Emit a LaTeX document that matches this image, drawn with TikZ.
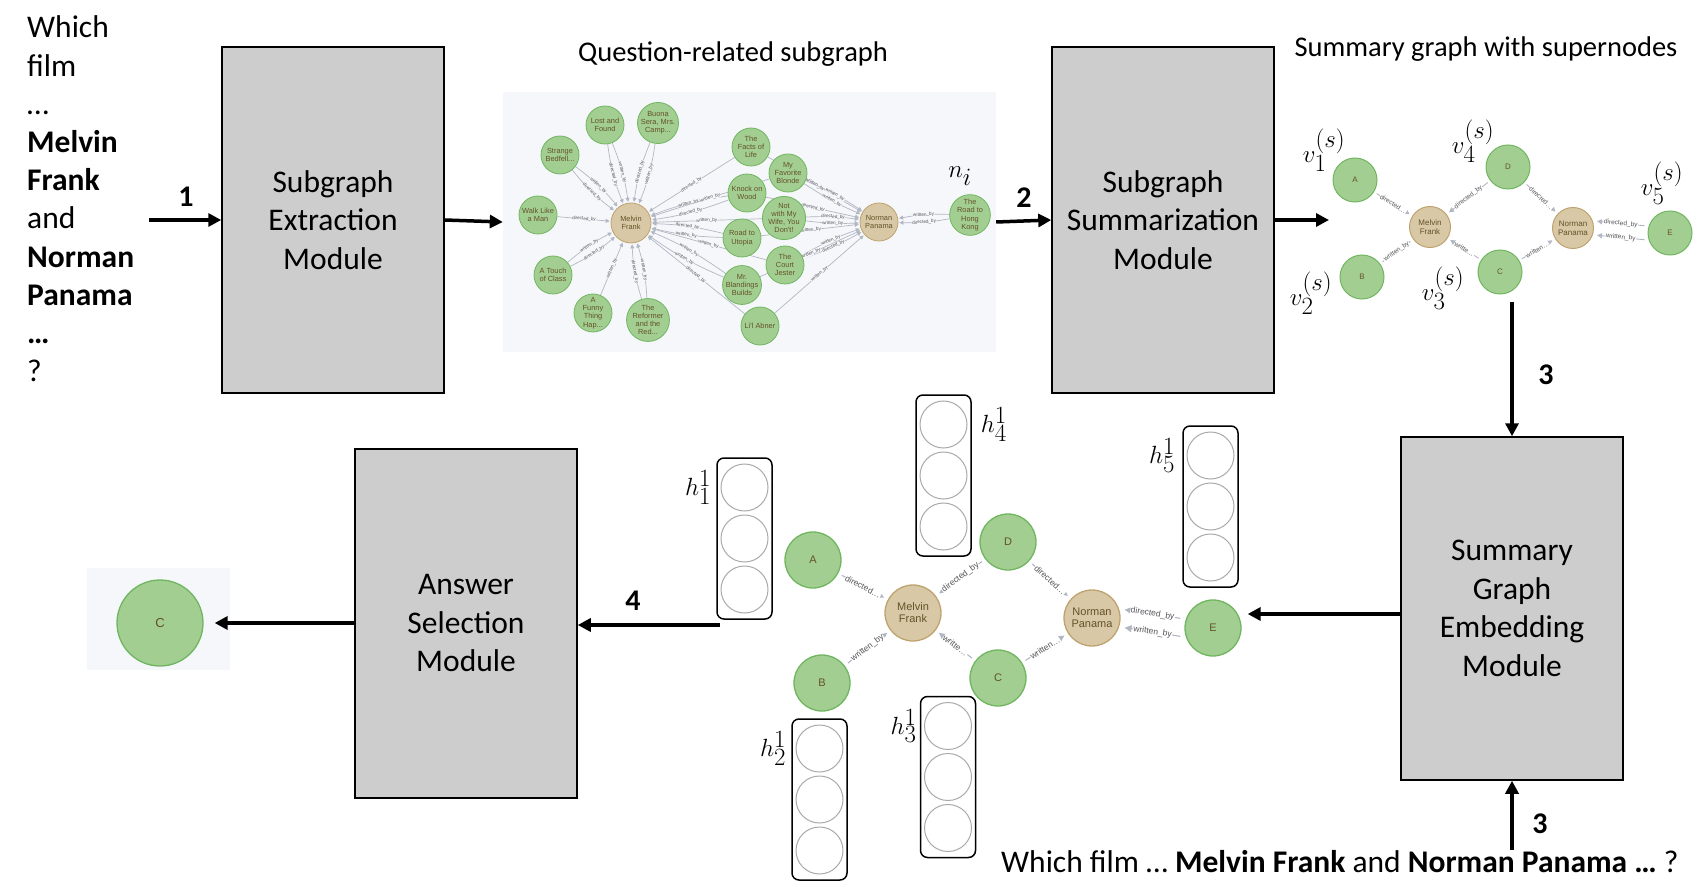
\documentclass[tikz,border=0pt]{standalone}
\usepackage{fontspec}
\setmainfont{Carlito}
\newfontfamily\graphfont{Liberation Sans}
\usepackage{tikz}
\usetikzlibrary{arrows.meta, positioning, calc, backgrounds}
\definecolor{boxgray}{RGB}{205,205,205}
\definecolor{nodegreen}{RGB}{162,206,146}
\definecolor{nodegreenline}{RGB}{112,182,96}
\definecolor{nodetan}{RGB}{217,200,166}
\definecolor{nodetanline}{RGB}{190,163,112}
\definecolor{nodetext}{RGB}{100,82,40}
\definecolor{edgegray}{RGB}{178,183,196}
\definecolor{labelgray}{RGB}{85,85,90}
\definecolor{subbg}{RGB}{246,247,250}
\definecolor{cellgray}{RGB}{170,170,170}

\begin{document}
\begin{tikzpicture}[x=1pt, y=-1pt,
    modbox/.style={draw=black, line width=1.5pt, fill=boxgray, minimum width=222pt, align=center, font=\fontsize{31.5}{38.5}\selectfont},
    flow/.style={line width=3.5pt, -{Triangle[length=13pt,width=13pt]}},
    steplbl/.style={font=\fontsize{30}{36}\selectfont\bfseries},
    qtext/.style={font=\fontsize{31.5}{38}\selectfont, inner sep=0pt},
    title/.style={font=\fontsize{28.5}{34}\selectfont},
    mathlbl/.style={font=\fontsize{39}{46}\selectfont, inner sep=1pt},
    film/.style={circle, draw=nodegreenline, line width=0.8pt, fill=nodegreen, minimum size=38pt, inner sep=0pt, align=center, text=nodetext, font=\graphfont\fontsize{7.4}{8.2}\selectfont},
    person/.style={film, draw=nodetanline, fill=nodetan, minimum size=40pt},
    edge/.style={draw=edgegray, line width=0.7pt, shorten >=1pt, -{Triangle[length=4pt,width=4pt]}},
    elabel/.style={font=\graphfont\fontsize{4.6}{5}\selectfont, text=labelgray, fill=subbg, inner sep=0.3pt, sloped},
    sgnode/.style={film, line width=1pt, minimum size=44pt, font=\graphfont\fontsize{8}{9}\selectfont},
    sgperson/.style={sgnode, draw=nodetanline, fill=nodetan, minimum size=41pt},
    sedge/.style={draw=edgegray, line width=0.9pt, shorten >=3pt, shorten <=3pt, -{Triangle[length=5pt,width=5pt]}},
    selabel/.style={font=\graphfont\fontsize{6.5}{7}\selectfont, text=labelgray, fill=white, inner sep=0.5pt, sloped},
    bgnode/.style={film, line width=1.3pt, minimum size=56pt, font=\graphfont\fontsize{11}{12}\selectfont},
    bgperson/.style={bgnode, draw=nodetanline, fill=nodetan},
    bedge/.style={draw=edgegray, line width=1.1pt, shorten >=4pt, shorten <=4pt, -{Triangle[length=7pt,width=7pt]}},
    belabel/.style={font=\graphfont\fontsize{8.5}{9}\selectfont, text=labelgray, fill=white, inner sep=0.5pt, sloped},
    vecbox/.style={draw=black, line width=1.5pt, rounded corners=7pt, minimum width=55pt, minimum height=161pt},
    veccell/.style={circle, draw=cellgray, line width=1pt, fill=white, minimum size=47pt, inner sep=0pt}
]
\useasboundingbox (0,0) rectangle (1697,893);

% Question (left column)
\foreach \i/\t in {0/Which, 1/film, 2/…, 3/\textbf{Melvin}, 4/\textbf{Frank}, 5/and, 6/\textbf{Norman}, 7/\textbf{Panama}, 8/\textbf{…}, 9/?}
    \node[qtext, anchor=base west] (q\i) at (27,38+38.2*\i) {\t};

% Modules
\node[modbox, minimum height=346pt] (extract) at (333,220) {Subgraph\\Extraction\\Module};
\node[modbox, minimum height=346pt] (summ) at (1163,220) {Subgraph\\Summarization\\Module};
\node[modbox, minimum height=343pt] (embedmod) at (1512,608.5) {Summary\\Graph\\Embedding\\Module};
\node[modbox, minimum height=349pt] (answer) at (466,623.5) {Answer\\Selection\\Module};

% Question-related subgraph
\node[title] (tsub) at (733,54) {Question-related subgraph};
\begin{scope}[on background layer]
    \node[fill=subbg, minimum width=493pt, minimum height=260pt] (qsub) at (749.5,222) {};
\end{scope}
\node[person] (mf) at (631,223) {Melvin\\Frank};
\node[person, minimum size=38pt] (np) at (879,222) {Norman\\Panama};
\foreach \n/\x/\y/\t in {lost/605/125/{Lost and\\Found}, buona/658/123/{Buona\\Sera, Mrs.\\Camp...},
    strange/560/155/{Strange\\Bedfell...}, walk/538/215/{Walk Like\\a Man}, touch/553/275/{A Touch\\of Class},
    funny/593/313/{A\\Funny\\Thing\\Hap...}, reformer/648/320/{The\\Reformer\\and the\\Red...},
    facts/751/147/{The\\Facts of\\Life}, knock/747/193/{Knock on\\Wood}, utopia/742/238/{Road to\\Utopia},
    blandings/742/285/{Mr.\\Blandings\\Builds}, abner/760/326/{Li'l Abner}, blonde/788/173/{My\\Favorite\\Blonde},
    wife/784/218/{Not\\with My\\Wife, You\\Don't!}, jester/785/265/{The\\Court\\Jester}, hk/970/215/{The\\Road to\\Hong\\Kong}}
    \node[film] (\n) at (\x,\y) {\t};
\begin{scope}[on background layer]
    \foreach \n/\b/\lab in {lost/7/written\_by, lost/-7/directed\_by, buona/7/written\_by, buona/-7/directed\_by,
        strange/7/written\_by, strange/-7/directed\_by, walk/0/directed\_by, touch/7/written\_by, touch/-7/directed\_by,
        funny/0/written\_by, reformer/7/directed\_by, reformer/-7/written\_by, facts/0/directed\_by,
        knock/6/directed\_by, knock/-6/written\_by, utopia/6/written\_by, utopia/-6/directed\_by,
        blandings/6/written\_by, blandings/-6/written\_by, abner/0/directed\_by, blonde/0/written\_by,
        wife/0/written\_by, jester/0/written\_by}
        \draw[edge] (\n) to[bend left=\b] node[elabel]{\lab} (mf);
    \foreach \n/\b/\lab in {facts/0/written\_by, blonde/5/written\_by, blonde/-5/written\_by, knock/0/directed\_by,
        wife/5/directed\_by, wife/-5/written\_by, utopia/0/written\_by, jester/5/written\_by, jester/-5/directed\_by,
        blandings/0/written\_by, abner/0/written\_by, hk/6/directed\_by, hk/-6/written\_by}
        \draw[edge] (\n) to[bend left=\b] node[elabel]{\lab} (np);
\end{scope}
\node[mathlbl] (ni) at (960,176) {$n_i$};

% Summary graph with supernodes
\node[title] (tsum) at (1486,49) {Summary graph with supernodes};
\node[sgnode] (sA) at (1355,180) {A};
\node[sgnode] (sD) at (1508,167) {D};
\node[sgnode] (sB) at (1362,277) {B};
\node[sgnode] (sC) at (1500,272) {C};
\node[sgnode] (sE) at (1670,233) {E};
\node[sgperson] (sMF) at (1430,227) {Melvin\\Frank};
\node[sgperson] (sNP) at (1573,228) {Norman\\Panama};
\draw[sedge] (sA) -- node[selabel]{directed…} (sMF);
\draw[sedge] (sD) -- node[selabel]{directed\_by} (sMF);
\draw[sedge] (sD) -- node[selabel]{directed…} (sNP);
\draw[sedge] (sB) -- node[selabel]{written\_by} (sMF);
\draw[sedge] (sC) -- node[selabel]{writte…} (sMF);
\draw[sedge] (sC) -- node[selabel]{written…} (sNP);
\draw[sedge] ([yshift=7pt]sE.west) -- node[selabel]{directed\_by} ([yshift=7pt]sNP.east);
\draw[sedge] ([yshift=-7pt]sE.west) -- node[selabel]{written\_by} ([yshift=-7pt]sNP.east);
\node[mathlbl] (v1) at (1324,150) {$v_1^{(s)}$};
\node[mathlbl] (v4) at (1473,141) {$v_4^{(s)}$};
\node[mathlbl] (v5) at (1662,183) {$v_5^{(s)}$};
\node[mathlbl] (v2) at (1311,293) {$v_2^{(s)}$};
\node[mathlbl] (v3) at (1443,288) {$v_3^{(s)}$};

% Embedded summary graph
\node[bgnode] (bA) at (813,560) {A};
\node[bgnode] (bD) at (1008,542) {D};
\node[bgnode] (bB) at (822,683) {B};
\node[bgnode] (bC) at (998,678) {C};
\node[bgnode] (bE) at (1213,628) {E};
\node[bgperson] (bMF) at (913,613) {Melvin\\Frank};
\node[bgperson] (bNP) at (1092,618) {Norman\\Panama};
\draw[bedge] (bA) -- node[belabel]{directed…} (bMF);
\draw[bedge] (bD) -- node[belabel]{directed\_by} (bMF);
\draw[bedge] (bD) -- node[belabel]{directed…} (bNP);
\draw[bedge] (bB) -- node[belabel]{written\_by} (bMF);
\draw[bedge] (bC) -- node[belabel]{writte…} (bMF);
\draw[bedge] (bC) -- node[belabel]{written…} (bNP);
\draw[bedge] ([yshift=9pt]bE.west) -- node[belabel]{directed\_by} ([yshift=9pt]bNP.east);
\draw[bedge] ([yshift=-9pt]bE.west) -- node[belabel]{written\_by} ([yshift=-9pt]bNP.east);

% Node embeddings
\foreach \i/\x/\y in {1/744.5/538.5, 2/819.5/799.5, 3/948/777, 4/943.5/475.5, 5/1210.5/506.5} {
    \node[vecbox] (h\i) at (\x,\y) {};
    \foreach \k/\c in {-1/t, 0/m, 1/b}
        \node[veccell] (h\i\c) at (\x,\y+51*\k) {};
}
\node[mathlbl, anchor=east] (lh1) at ([xshift=-4pt]h1.west |- h1t) {$h_1^1$};
\node[mathlbl, anchor=east] (lh2) at ([xshift=-4pt]h2.west |- h2t) {$h_2^1$};
\node[mathlbl, anchor=east] (lh3) at ([xshift=-2pt]h3.west |- h3t) {$h_3^1$};
\node[mathlbl, anchor=west] (lh4) at ([xshift=8pt]h4.east |- h4t) {$h_4^1$};
\node[mathlbl, anchor=east] (lh5) at ([xshift=-6pt]h5.west |- h5t) {$h_5^1$};

% Answer
\begin{scope}[on background layer]
    \node[fill=subbg, minimum width=143pt, minimum height=102pt] (ansbg) at (158.5,619) {};
\end{scope}
\node[bgnode, minimum size=86pt, font=\graphfont\fontsize{13}{13}\selectfont] (cAns) at (160,623) {C};

% Bottom question
\node[qtext, anchor=base west] (qbot) at (1001,872) {Which film … \textbf{Melvin Frank} and \textbf{Norman Panama …} ?};

% Flow arrows
\coordinate (qOut) at (149,220);
\coordinate (sgIn) at (1329,220);
\coordinate (sgOut) at (1512,302);
\coordinate (embOut) at (720,625);
\coordinate (eIn) at ([xshift=6pt,yshift=14pt]bE.east);
\draw[flow] (qOut) -- (extract.west);
\draw[flow] (extract.east) -- (qsub.west);
\draw[flow] (qsub.east) -- (summ.west);
\draw[flow] (summ.east) -- (sgIn);
\draw[flow] (sgOut) -- (embedmod.north);
\draw[flow] (embedmod.south |- qbot.north) -- (embedmod.south);
\draw[flow] (embedmod.west |- eIn) -- (eIn);
\draw[flow] (embOut) -- (embOut -| answer.east);
\draw[flow] (answer.west |- cAns) -- ([xshift=11pt]cAns.east);
\node[steplbl] (s1) at (186,197) {1};
\node[steplbl] (s2) at (1024,198) {2};
\node[steplbl] (s3) at (1546,375) {3};
\node[steplbl] (s3b) at (1540,824) {3};
\node[steplbl] (s4) at (633,601) {4};
\end{tikzpicture}
\end{document}
